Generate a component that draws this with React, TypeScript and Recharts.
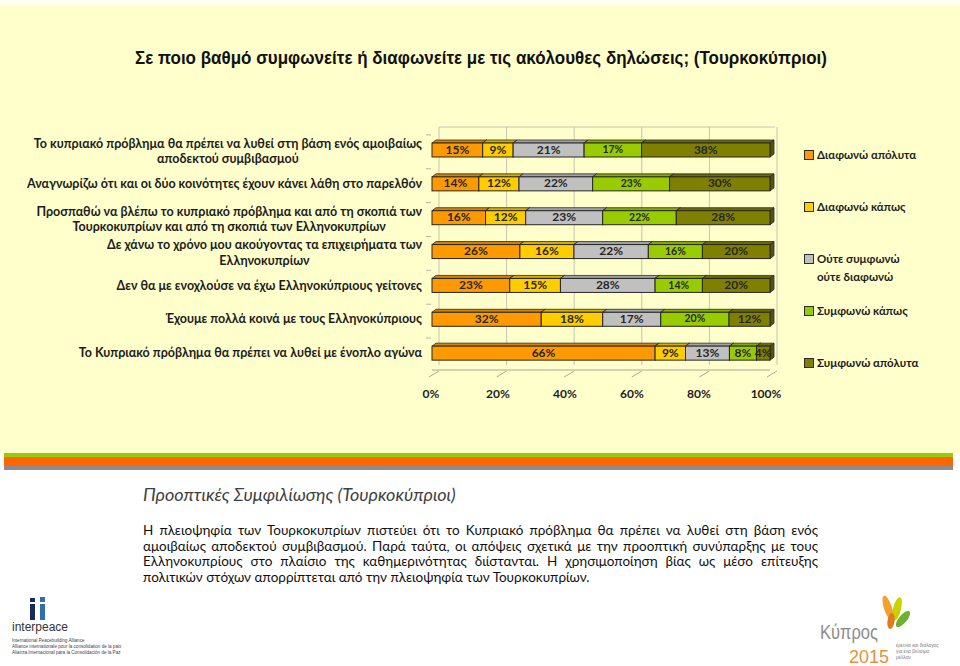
import React from 'react';
import { BarChart, Bar, XAxis, YAxis, CartesianGrid } from 'recharts';

// categories top to bottom ("\n" = manual line break in the axis label)
const categories = [
  'Το κυπριακό πρόβλημα θα πρέπει να λυθεί στη βάση ενός αμοιβαίως\nαποδεκτού συμβιβασμού',
  'Αναγνωρίζω ότι και οι δύο κοινότητες έχουν κάνει λάθη στο παρελθόν',
  'Προσπαθώ να βλέπω το κυπριακό πρόβλημα και από τη σκοπιά των\nΤουρκοκυπρίων και από τη σκοπιά των Ελληνοκυπρίων',
  'Δε χάνω το χρόνο μου ακούγοντας τα επιχειρήματα των\nΕλληνοκυπρίων',
  'Δεν θα με ενοχλούσε να έχω Ελληνοκύπριους γείτονες',
  'Έχουμε πολλά κοινά με τους Ελληνοκύπριους',
  'Το Κυπριακό πρόβλημα θα πρέπει να λυθεί με ένοπλο αγώνα',
];

const seriesNames = [
  'Διαφωνώ απόλυτα',
  'Διαφωνώ κάπως',
  'Ούτε συμφωνώ\nούτε διαφωνώ',
  'Συμφωνώ κάπως',
  'Συμφωνώ απόλυτα',
];

const disagreeFully = [15, 14, 16, 26, 23, 32, 66];
const disagreeSomewhat = [9, 12, 12, 16, 15, 18, 9];
const neither = [21, 22, 23, 22, 28, 17, 13];
const agreeSomewhat = [17, 23, 22, 16, 14, 20, 8];
const agreeFully = [38, 30, 28, 20, 20, 12, 4];

const xTicks = [0, 0.2, 0.4, 0.6, 0.8, 1];

const data = categories.map((name, i) => ({
  name,
  a: disagreeFully[i],
  b: disagreeSomewhat[i],
  c: neither[i],
  d: agreeSomewhat[i],
  e: agreeFully[i],
}));

const keys = ['a', 'b', 'c', 'd', 'e'];
const fronts = ['#FF9900', '#FFCC00', '#C0C0C0', '#99CC00', '#808000'];
const tops = ['#D98200', '#D9AD00', '#A3A3A3', '#82AD00', '#6B6B00'];
const sides = ['#B36B00', '#B38F00', '#868686', '#6B8F00', '#565600'];

const FONT = "Lato, 'Open Sans', 'DejaVu Sans', sans-serif";
const LABEL_FONT_SIZE = 12.5;

let ctx: CanvasRenderingContext2D | null = null;
const measure = (s: string, font: string) => {
  if (!ctx) ctx = document.createElement('canvas').getContext('2d');
  if (!ctx) return s.length * 6;
  ctx.font = font;
  return ctx.measureText(s).width;
};

const DX = 4;
const DY = 3;

const Bar3D = (props: any) => {
  const { x, y, width, height, payload, idx } = props;
  if (!width || width <= 0) return null;
  const k = keys[idx];
  const small = idx === 3 && payload[k] > 9;
  return (
    <g>
      <polygon
        points={`${x},${y} ${x + DX},${y - DY} ${x + width + DX},${y - DY} ${x + width},${y}`}
        fill={tops[idx]}
        stroke="#2b2b2b"
        strokeWidth={0.8}
      />
      <polygon
        points={`${x + width},${y} ${x + width + DX},${y - DY} ${x + width + DX},${y + height - DY} ${x + width},${y + height}`}
        fill={sides[idx]}
        stroke="#2b2b2b"
        strokeWidth={0.8}
      />
      <rect x={x} y={y} width={width} height={height} fill={fronts[idx]} stroke="#262626" strokeWidth={1} />
      <text
        x={x + width / 2}
        y={y + height / 2 + 0.5}
        textAnchor="middle"
        dominantBaseline="middle"
        fontFamily={FONT}
        fontWeight="bold"
        fontSize={small ? 10.5 : 12}
        fill="#262626"
      >
        {payload[k]}%
      </text>
    </g>
  );
};

const YTick = (props: any) => {
  const { x, y, payload } = props;
  const lines: string[] = String(payload.value).split('\n');
  const font = `bold ${LABEL_FONT_SIZE}px ${FONT}`;
  const maxW = Math.max(...lines.map((l) => measure(l, font)));
  const cx = x - maxW / 2;
  const lh = 15.5;
  const y0 = lines.length > 1 ? y + 2.5 - ((lines.length - 1) * lh) / 2 : y + 1;
  return (
    <g>
      <line x1={x + 4} y1={y - 15} x2={x + 9} y2={y - 15} stroke="#B5B5A5" />
      {lines.map((l, i) => (
        <text
          key={i}
          x={cx}
          y={y0 + i * lh}
          textAnchor="middle"
          dominantBaseline="middle"
          fontFamily={FONT}
          fontWeight="bold"
          fontSize={LABEL_FONT_SIZE}
          fill="#1c1c1c"
        >
          {l}
        </text>
      ))}
    </g>
  );
};

const XTick = (props: any) => {
  const { x, y, payload } = props;
  const v = payload.value;
  return (
    <g>
      <line x1={x - 3} y1={y - 1} x2={x + 7} y2={y - 7} stroke="#A8A898" />
      <text
        x={x - 1 - v * 3}
        y={y + 17}
        textAnchor="middle"
        dominantBaseline="middle"
        fontFamily={FONT}
        fontWeight="bold"
        fontSize={12}
        fill="#1c1c1c"
      >
        {Math.round(v * 100)}%
      </text>
    </g>
  );
};

const wallX = (args: any) => {
  const xAxis = args && args.xAxis;
  if (xAxis && typeof xAxis.scale === 'function') {
    return xTicks.map((t) => xAxis.scale(t) + 7);
  }
  return xTicks.map((t) => 432 + t * 338 + 7);
};

const paragraph = [
  'Η πλειοψηφία των Τουρκοκυπρίων πιστεύει ότι το Κυπριακό πρόβλημα θα πρέπει να λυθεί στη βάση ενός',
  'αμοιβαίως αποδεκτού συμβιβασμού. Παρά ταύτα, οι απόψεις σχετικά με την προοπτική συνύπαρξης με τους',
  'Ελληνοκυπρίους στο πλαίσιο της καθημερινότητας διίστανται. Η χρησιμοποίηση βίας ως μέσο επίτευξης',
  'πολιτικών στόχων απορρίπτεται από την πλειοψηφία των Τουρκοκυπρίων.',
];

export default function App() {
  return (
    <div
      style={{
        position: 'absolute',
        left: 0,
        top: 0,
        width: 960,
        height: 666,
        background: '#ffffff',
        overflow: 'hidden',
        fontFamily: FONT,
      }}
    >
      {/* cream slide area */}
      <div
        style={{
          position: 'absolute',
          left: 0,
          top: 0,
          width: 960,
          height: 453,
          background: 'linear-gradient(#ffffff 0px, #FFFFCC 8px)',
        }}
      />
      {/* stripes */}
      <div style={{ position: 'absolute', left: 4, top: 453, width: 949, height: 4, background: '#99CC00' }} />
      <div style={{ position: 'absolute', left: 4, top: 457, width: 949, height: 9, background: '#FF6600' }} />
      <div style={{ position: 'absolute', left: 4, top: 466, width: 949, height: 4, background: '#8E8A8E' }} />

      {/* title */}
      <svg style={{ position: 'absolute', left: 0, top: 0 }} width={960} height={90}>
        <text
          x={135}
          y={64}
          textLength={692}
          lengthAdjust="spacingAndGlyphs"
          fontFamily="'Liberation Sans', Arial, sans-serif"
          fontWeight="bold"
          fontSize={18}
          fill="#111"
        >
          Σε ποιο βαθμό συμφωνείτε ή διαφωνείτε με τις ακόλουθες δηλώσεις; (Τουρκοκύπριοι)
        </text>
      </svg>

      <div style={{ position: 'absolute', left: 0, top: 0 }}>
        <BarChart
          width={960}
          height={420}
          data={data}
          layout="vertical"
          stackOffset="expand"
          barSize={14}
          margin={{ top: 133, right: 190, bottom: 20, left: 0 }}
        >
          <CartesianGrid
            x={439}
            y={127}
            width={336}
            height={238}
            stroke="#C4C4B4"
            strokeWidth={1}
            verticalCoordinatesGenerator={wallX}
            horizontalCoordinatesGenerator={() => [127]}
          />
          <XAxis
            type="number"
            domain={[0, 1]}
            ticks={xTicks}
            height={30}
            tickLine={false}
            axisLine={{ stroke: '#A8A898' }}
            tick={<XTick />}
            interval={0}
          />
          <YAxis
            type="category"
            dataKey="name"
            width={432}
            tickSize={0}
            tickMargin={10}
            axisLine={false}
            tickLine={false}
            tick={<YTick />}
            interval={0}
          />
          {keys.map((k, i) => (
            <Bar
              key={k}
              dataKey={k}
              name={seriesNames[i]}
              stackId="s"
              fill={fronts[i]}
              isAnimationActive={false}
              shape={(p: any) => <Bar3D {...p} idx={i} />}
            />
          ))}
        </BarChart>
      </div>

      {/* legend */}
      {seriesNames.map((n, i) => (
        <div
          key={n}
          style={{
            position: 'absolute',
            left: 804,
            top: 129 + i * 52,
            height: 52,
            display: 'flex',
            alignItems: 'flex-start',
            paddingTop: 17,
            boxSizing: 'border-box',
          }}
        >
          <div
            style={{
              width: 8,
              height: 8,
              border: '1px solid #2b2b2b',
              background: fronts[i],
              marginTop: 4,
              marginRight: 3,
              flex: 'none',
            }}
          />
          <div
            style={{
              fontSize: 11.5,
              fontWeight: 'bold',
              lineHeight: '18px',
              color: '#1c1c1c',
              whiteSpace: 'pre-line',
            }}
          >
            {n}
          </div>
        </div>
      ))}

      {/* commentary */}
      <div
        style={{
          position: 'absolute',
          left: 143,
          top: 483,
          fontSize: 18,
          fontStyle: 'italic',
          color: '#3f3f3f',
          whiteSpace: 'nowrap',
        }}
      >
        Προοπτικές Συμφιλίωσης (Τουρκοκύπριοι)
      </div>
      <div style={{ position: 'absolute', left: 143, top: 523, width: 675, fontSize: 13.5, color: '#111', lineHeight: '15.5px' }}>
        {paragraph.map((l, i) => (
          <div
            key={i}
            style={{
              textAlign: 'justify',
              textAlignLast: i < paragraph.length - 1 ? 'justify' : 'left',
              whiteSpace: 'nowrap',
            }}
          >
            {l}
          </div>
        ))}
      </div>

      {/* interpeace logo */}
      <svg style={{ position: 'absolute', left: 0, top: 590 }} width={150} height={76}>
        <rect x={30} y={8} width={5} height={4} fill="#1B2A5C" />
        <rect x={30} y={14} width={5} height={16} fill="#1B2A5C" />
        <rect x={40} y={7} width={5} height={5} fill="#2F6DB5" />
        <rect x={40} y={14} width={5} height={16} fill="#2F6DB5" />
        <text x={12} y={41} fontFamily="'Liberation Sans', Arial, sans-serif" fontSize={12} fill="#333">
          interpeace
        </text>
        <text x={12} y={52} fontFamily="'Liberation Sans', Arial, sans-serif" fontSize={4.6} fill="#444">
          International Peacebuilding Alliance
        </text>
        <text x={12} y={58} fontFamily="'Liberation Sans', Arial, sans-serif" fontSize={4.6} fill="#444">
          Alliance internationale pour la consolidation de la paix
        </text>
        <text x={12} y={64} fontFamily="'Liberation Sans', Arial, sans-serif" fontSize={4.6} fill="#444">
          Alianza Internacional para la Consolidación de la Paz
        </text>
      </svg>

      {/* Kypros 2015 logo */}
      <svg style={{ position: 'absolute', left: 800, top: 590 }} width={160} height={76}>
        <ellipse cx={88} cy={18} rx={4} ry={13} fill="#F2A22A" transform="rotate(-18 88 18)" />
        <ellipse cx={97} cy={19} rx={4} ry={12} fill="#C9D200" transform="rotate(14 97 19)" />
        <ellipse cx={103} cy={29} rx={4} ry={10} fill="#6FB12E" transform="rotate(40 103 29)" />
        <ellipse cx={91} cy={31} rx={3.5} ry={8} fill="#E07A1F" transform="rotate(8 91 31)" />
        <text
          x={20}
          y={49}
          textLength={58}
          lengthAdjust="spacingAndGlyphs"
          fontFamily="'Liberation Sans', Arial, sans-serif"
          fontSize={20}
          fill="#8C8C8C"
        >
          Κύπρος
        </text>
        <text x={49} y={73} fontFamily="'Liberation Sans', Arial, sans-serif" fontSize={18} fill="#E8913A">
          2015
        </text>
        <text x={96} y={57} fontFamily="'Liberation Sans', Arial, sans-serif" fontSize={4.8} fill="#777">
          έρευνα και διάλογος
        </text>
        <text x={96} y={63} fontFamily="'Liberation Sans', Arial, sans-serif" fontSize={4.8} fill="#777">
          για ένα βιώσιμο
        </text>
        <text x={96} y={69} fontFamily="'Liberation Sans', Arial, sans-serif" fontSize={4.8} fill="#777">
          μέλλον
        </text>
      </svg>
    </div>
  );
}
